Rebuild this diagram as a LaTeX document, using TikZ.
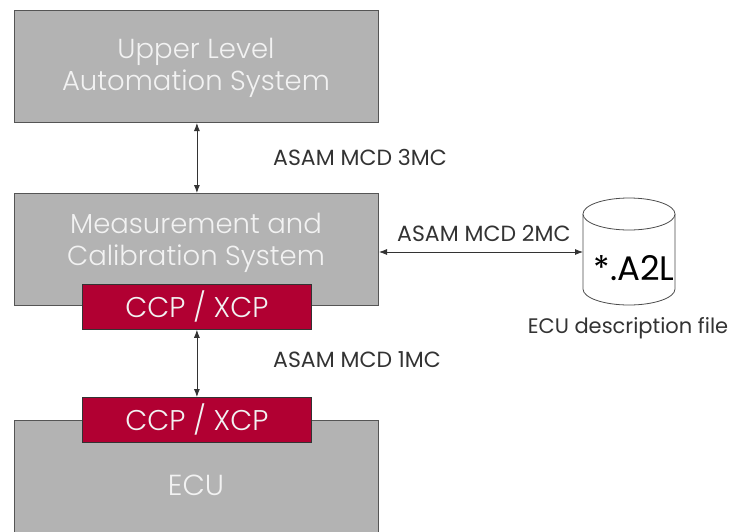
\documentclass[tikz,border=0pt]{standalone}
\usepackage{fontspec}
\setmainfont{Poppins}
\newfontfamily\lightfont{Poppins Light}
\usetikzlibrary{arrows.meta}
\definecolor{boxgray}{HTML}{B3B3B3}
\definecolor{boxedge}{HTML}{555555}
\definecolor{ccpred}{HTML}{B10032}
\definecolor{lbl}{HTML}{333333}
\definecolor{boxtext}{HTML}{F2F2F2}
\begin{document}
\begin{tikzpicture}[x=1pt,y=-1pt,
  graybox/.style={draw=boxedge,fill=boxgray,line width=1pt,anchor=north west,
    minimum width=364pt,inner sep=0pt},
  boxlabel/.style={text=boxtext,font=\lightfont\fontsize{27.5}{32}\selectfont,align=center},
  redbox/.style={draw=boxedge!60!black,fill=ccpred,line width=0.8pt,anchor=north west,
    minimum width=229pt,minimum height=45pt,inner sep=0pt,text=boxtext,
    font=\lightfont\fontsize{28.5}{30}\selectfont},
  conn/.style={draw=black!80,line width=0.8pt,{Latex[length=8pt,width=6pt]}-{Latex[length=8pt,width=6pt]}},
  asam/.style={text=lbl,font=\fontsize{22}{24}\selectfont,anchor=west,inner sep=0pt}
]
\useasboundingbox (0,0) rectangle (736,531);
% boxes
\node[graybox,minimum height=112pt] (ul) at (14,10) {};
\node[boxlabel] (ult) at (196,68) {Upper Level\\Automation System};
\node[graybox,minimum height=112pt] (mc) at (14,193) {};
\node[boxlabel] (mct) at (196,243) {Measurement and\\Calibration System};
\node[graybox,minimum height=120pt] (ecu) at (14,420) {};
\node[boxlabel,font=\lightfont\fontsize{29}{32}\selectfont] (ecut) at (196,485) {ECU};
\node[redbox] (ccp1) at (82,284) {CCP / XCP};
\node[redbox] (ccp2) at (82,397) {CCP / XCP};
% cylinder (drawn directly)
\draw[draw=black!70,line width=0.8pt,fill=white]
  (583,214) -- (583,289) arc[start angle=180,end angle=0,x radius=46,y radius=16] -- (675,214);
\draw[draw=black!70,line width=0.8pt,fill=white] (629,214) ellipse[x radius=46,y radius=16];
\node[text=black,font=\fontsize{34}{36}\selectfont] (a2lt) at (634,268) {*.A2L};
\node[text=lbl,font=\fontsize{21}{24}\selectfont] (desc) at (628,328) {ECU description file};
% connectors
\draw[conn] (ul.south -| ccp1.north) -- (mc.north -| ccp1.north);
\draw[conn] (ccp1.south) -- (ccp2.north);
\coordinate (cylleft) at (583,252);
\draw[conn] (mc.east |- cylleft) -- (cylleft);
% labels
\node[asam] (l3) at (273,157) {ASAM MCD 3MC};
\node[asam] (l2) at (397,233) {ASAM MCD 2MC};
\node[asam] (l1) at (273,360) {ASAM MCD 1MC};
\end{tikzpicture}
\end{document}
